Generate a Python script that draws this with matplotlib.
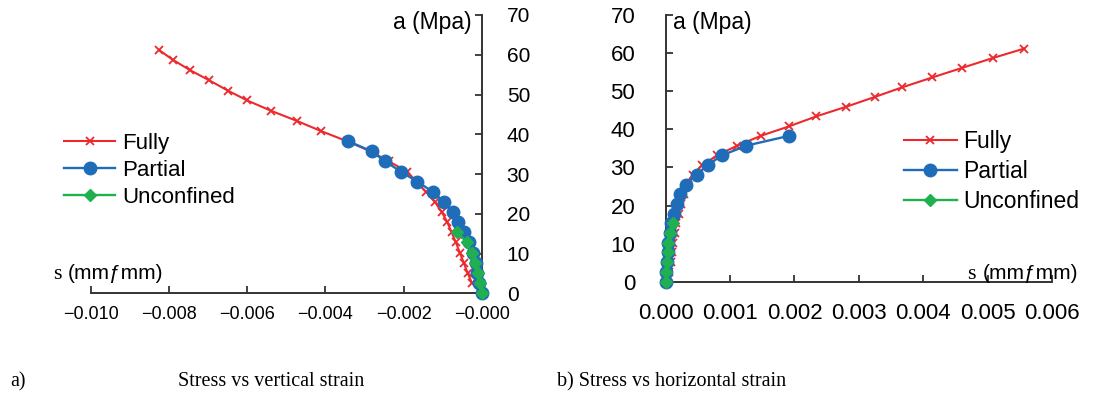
import matplotlib
matplotlib.use('Agg')
import matplotlib.pyplot as plt

# stress levels (MPa)
stress_fully = [61.2, 58.7, 56.1, 53.6, 51.0, 48.5, 45.9, 43.4, 40.8, 38.3, 35.7, 33.2,
                30.6, 28.1, 25.5, 23.0, 20.4, 17.9, 15.3, 12.8, 10.2, 7.7, 5.1, 2.6, 0.0]
stress_partial = [38.3, 35.7, 33.2, 30.6, 28.1, 25.5, 23.0, 20.4, 17.9, 15.3, 12.8,
                  10.2, 7.7, 5.1, 2.6, 0.0]
stress_unconf = [15.3, 12.8, 10.2, 7.7, 5.1, 2.6, 0.0]

# vertical strain (mm/mm)
vert_fully = [-8.26e-3, -7.90e-3, -7.46e-3, -6.98e-3, -6.50e-3, -6.00e-3, -5.39e-3, -4.74e-3,
              -4.11e-3, -3.46e-3, -2.84e-3, -2.38e-3, -1.90e-3, -1.68e-3, -1.42e-3, -1.20e-3,
              -1.02e-3, -0.88e-3, -0.77e-3, -0.66e-3, -0.56e-3, -0.46e-3, -0.36e-3, -0.25e-3, 0.0]
vert_partial = [-3.42e-3, -2.82e-3, -2.47e-3, -2.07e-3, -1.65e-3, -1.25e-3, -0.965e-3, -0.74e-3,
                -0.60e-3, -0.445e-3, -0.32e-3, -0.23e-3, -0.15e-3, -0.11e-3, -0.06e-3, 0.0]
vert_unconf = [-0.62e-3, -0.38e-3, -0.26e-3, -0.17e-3, -0.10e-3, -0.05e-3, 0.0]

# horizontal strain (mm/mm)
hor_fully = [5.57e-3, 5.08e-3, 4.60e-3, 4.14e-3, 3.67e-3, 3.25e-3, 2.80e-3, 2.34e-3, 1.92e-3,
             1.48e-3, 1.11e-3, 0.80e-3, 0.57e-3, 0.42e-3, 0.35e-3, 0.29e-3, 0.24e-3, 0.20e-3,
             0.16e-3, 0.14e-3, 0.12e-3, 0.10e-3, 0.08e-3, 0.05e-3, 0.0]
hor_partial = [1.92e-3, 1.25e-3, 0.88e-3, 0.65e-3, 0.48e-3, 0.31e-3, 0.22e-3, 0.17e-3, 0.13e-3,
               0.09e-3, 0.06e-3, 0.04e-3, 0.03e-3, 0.02e-3, 0.01e-3, 0.0]
hor_unconf = [0.12e-3, 0.06e-3, 0.04e-3, 0.03e-3, 0.02e-3, 0.01e-3, 0.0]

labels = ['Fully', 'Partial', 'Unconfined']
xticks_left = [-0.010, -0.008, -0.006, -0.004, -0.002, 0.0]
xticklabels_left = ['\u22120.010', '\u22120.008', '\u22120.006', '\u22120.004', '\u22120.002', '\u22120.000']
xticks_right = [0.000, 0.001, 0.002, 0.003, 0.004, 0.005, 0.006]
yticks = [0, 10, 20, 30, 40, 50, 60, 70]

RED = '#ec2a2e'
BLUE = '#1f6db8'
GREEN = '#20b04f'
AXC = '#333333'

plt.rcParams['font.family'] = ['Liberation Sans', 'DejaVu Sans']

W, H = 1101, 393
fig = plt.figure(figsize=(W / 100, H / 100), dpi=100)


def fx(px):
    return px / W


def fy(py):
    return 1 - py / H


ax1 = fig.add_axes([fx(91), fy(293.3), fx(481.7 - 91), (293.3 - 15) / H])
ax2 = fig.add_axes([fx(665.7), fy(281.7), fx(1052 - 665.7), (281.7 - 15) / H])


def draw(ax, xf, xp, xu):
    ax.plot(xf, stress_fully, color=RED, lw=1.5, marker='x', ms=6, mew=1.3,
            label=labels[0], clip_on=False, zorder=3)
    ax.plot(xp, stress_partial, color=BLUE, lw=1.7, marker='o', ms=9,
            label=labels[1], clip_on=False, zorder=4)
    ax.plot(xu, stress_unconf, color=GREEN, lw=1.7, marker='D', ms=6.5,
            label=labels[2], clip_on=False, zorder=5)
    ax.set_ylim(0, 70)
    ax.set_yticks(yticks)
    ax.spines['top'].set_visible(False)
    for s in ax.spines.values():
        s.set_color(AXC)
        s.set_linewidth(1.4)
    ax.tick_params(direction='in', length=5, width=1.3, color=AXC)
    ax.patch.set_visible(False)


draw(ax1, vert_fully, vert_partial, vert_unconf)
ax1.set_xlim(-0.010, 0.0)
ax1.spines['left'].set_visible(False)
ax1.yaxis.tick_right()
ax1.set_xticks(xticks_left)
ax1.set_xticklabels(xticklabels_left)
ax1.tick_params(axis='x', labelsize=13, pad=9)
ax1.tick_params(axis='y', labelsize=15, pad=18)

draw(ax2, hor_fully, hor_partial, hor_unconf)
ax2.set_xlim(0.0, 0.006)
ax2.spines['right'].set_visible(False)
ax2.set_xticks(xticks_right)
ax2.set_xticklabels(['%.3f' % v for v in xticks_right])
ax2.tick_params(axis='x', labelsize=16, pad=15)
ax2.tick_params(axis='y', labelsize=16, pad=22)

leg_kw = dict(frameon=False, borderpad=0, borderaxespad=0, handlelength=2.3,
              handletextpad=0.3, bbox_transform=fig.transFigure, loc='upper left')
ax1.legend(bbox_to_anchor=(fx(64), fy(133)), prop={'size': 16}, labelspacing=0.26, **leg_kw)
ax2.legend(bbox_to_anchor=(fx(904), fy(130)), prop={'size': 16.5}, labelspacing=0.31, **leg_kw)

# axis titles
fig.text(fx(472), fy(22), 'a (Mpa)', ha='right', va='center', fontsize=16.5)
fig.text(fx(673), fy(22), 'a (Mpa)', ha='left', va='center', fontsize=16.5)
fig.text(fx(53), fy(279), 's', ha='left', va='baseline', fontsize=16, family='Liberation Serif')
fig.text(fx(68), fy(279), '(mm\u0192mm)', ha='left', va='baseline', fontsize=15)
fig.text(fx(967), fy(279), 's', ha='left', va='baseline', fontsize=16, family='Liberation Serif')
fig.text(fx(983), fy(279), '(mm\u0192mm)', ha='left', va='baseline', fontsize=15)

# captions
cap = dict(fontsize=14.5, family='Liberation Serif', va='baseline', ha='left')
fig.text(fx(10), fy(386), 'a)', **cap)
fig.text(fx(178), fy(386), 'Stress vs vertical strain', **cap)
fig.text(fx(557), fy(386), 'b) Stress vs horizontal strain', **cap)

fig.savefig('out.png', dpi=100)
